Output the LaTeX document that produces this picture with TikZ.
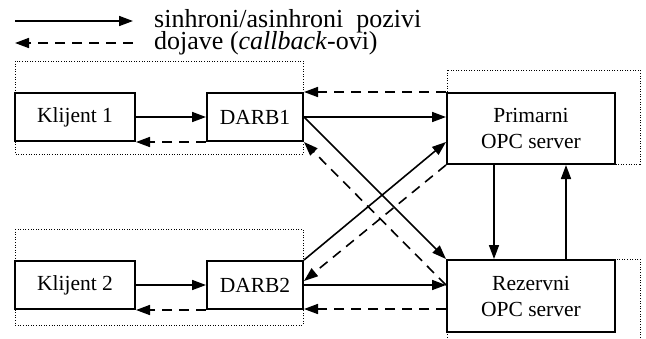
\documentclass[tikz,border=0pt]{standalone}
\usepackage{fontspec}
\setmainfont{Liberation Serif}
\usetikzlibrary{arrows.meta,calc}
\begin{document}
\begin{tikzpicture}[x=1pt,y=-1pt,
  box/.style={draw,line width=2pt,rectangle,inner sep=0pt,
    font=\fontsize{21.5}{26}\selectfont,align=center},
  call/.style={line width=1.6pt,-{Triangle[length=14pt,width=10pt]}},
  back/.style={call,dash pattern=on 10pt off 7pt},
  group/.style={line width=1pt,dash pattern=on 1pt off 1.6pt},
  legend/.style={anchor=base west,inner sep=0pt,
    font=\fontsize{26}{21}\selectfont}
]
\useasboundingbox (0,0) rectangle (646,338);
\clip (0,0) rectangle (646,338);

% legend
\coordinate (l1a) at (15,21);
\coordinate (l1b) at (133,21);
\coordinate (l2a) at (15,43);
\coordinate (l2b) at (133,43);
\draw[call] (l1a) -- (l1b);
\draw[back] (l2b) -- (l2a);
\node[legend] (lg1) at (154,27.5) {sinhroni/asinhroni\ \ pozivi};
\node[legend] (lg2) at (154,49.5) {dojave (\textit{callback}-ovi)};

% dotted groups
\draw[group] (15,61) rectangle (303,154);
\draw[group] (15,229) rectangle (303,325);
\draw[group] (447,70) rectangle (640,164);
\draw[group] (447,259) rectangle (640,345);

% boxes
\node[box,minimum width=120pt,minimum height=48pt] (k1) at (75,117) {Klijent 1};
\node[box,minimum width=96pt,minimum height=48pt] (d1) at (255,117) {DARB1};
\node[box,minimum width=120pt,minimum height=48pt] (k2) at (75,285) {Klijent 2};
\node[box,minimum width=96pt,minimum height=48pt] (d2) at (255,285) {DARB2};
\node[box,minimum width=168pt,minimum height=71pt] (p) at (531,128.5) {Primarni\\OPC server};
\node[box,minimum width=168pt,minimum height=72pt] (r) at (531,296) {Rezervni\\OPC server};

% anchor points on the server boxes
\coordinate (pin) at ($(p.west)+(0,13.5)$);
\coordinate (d2cb) at ($(d2.north east)+(0,21)$);
\coordinate (rcb) at ($(r.south west)+(0,-24)$);
\coordinate (pdown) at ($(p.south west)+(48,0)$);
\coordinate (rup) at ($(r.north west)+(120,0)$);

% client <-> DARB
\draw[call] (k1.east) -- (d1.west);
\draw[back] (d1.south west) -- (k1.south east);
\draw[call] (k2.east) -- (d2.west);
\draw[back] (d2.south west) -- (k2.south east);

% DARB1 <-> servers
\draw[back] (p.north west) -- (d1.north east);
\draw[call] (d1.east) -- (d1.east -| p.west);
\draw[call] (d1.east) -- (r.north west);
\draw[back] (d2.east -| r.west) -- (d1.south east);

% DARB2 <-> servers
\draw[call] (d2.north east) -- (pin);
\draw[back] (p.south west) -- (d2cb);
\draw[call] (d2.east) -- (d2.east -| r.west);
\draw[back] (rcb) -- (rcb -| d2.east);

% primary <-> backup
\draw[call] (pdown) -- (pdown |- r.north);
\draw[call] (rup) -- (rup |- p.south);
\end{tikzpicture}
\end{document}
